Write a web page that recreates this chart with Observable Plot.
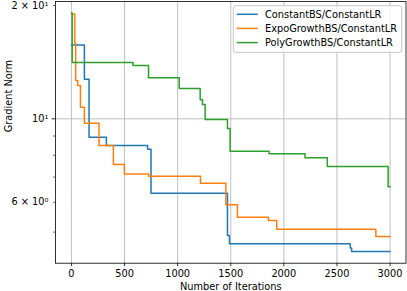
<!DOCTYPE html>
<html><head><meta charset="utf-8">
<script src="https://cdn.jsdelivr.net/npm/d3@7"></script>
<script src="https://cdn.jsdelivr.net/npm/@observablehq/plot@0.6"></script>
<style>
html,body{margin:0;padding:0;background:#fff;}
#chart{position:relative;width:407px;height:291px;}
</style></head><body><div id="chart"></div>
<script>
const seriesNames = ["ConstantBS/ConstantLR", "ExpoGrowthBS/ConstantLR", "PolyGrowthBS/ConstantLR"];
const seriesColors = ["#1f77b4", "#ff7f0e", "#2ca02c"];

const constantIter = [0, 122, 166, 329, 717, 749, 1469, 1488, 2625, 2638, 3000];
const constantNorm = [15.7, 12.74, 8.93, 8.49, 8.30, 6.34, 4.9, 4.66, 4.54, 4.44, 4.44];

const expoIter = [0, 31, 40, 59, 85, 122, 260, 395, 498, 727, 1215, 1454, 1563, 1855, 1933, 2866, 3000];
const expoNorm = [19.0, 15.9, 12.64, 12.26, 10.73, 9.73, 8.49, 7.56, 7.14, 7.04, 6.74, 5.91, 5.48, 5.37, 5.09, 4.87, 4.87];

const polyIter = [0, 7, 580, 726, 1015, 1212, 1234, 1259, 1469, 1494, 1861, 2199, 2409, 2982, 3000];
const polyNorm = [19.1, 14.11, 13.86, 12.85, 12.04, 11.23, 10.91, 9.96, 9.42, 8.20, 8.07, 7.88, 7.47, 6.60, 6.60];

const xTicks = [0, 500, 1000, 1500, 2000, 2500, 3000];
const yMajorTicks = [10];
const yLabeledMinorTicks = [6, 20];
const yMinorTicks = [5, 7, 8, 9];
const yTickLabels = new Map([[6, "6 × 10⁰"], [10, "10¹"], [20, "2 × 10¹"]]);
const xLabel = "Number of Iterations";
const yLabel = "Gradient Norm";

const iters = [constantIter, expoIter, polyIter];
const norms = [constantNorm, expoNorm, polyNorm];
const rows = [];
seriesNames.forEach((name, i) => {
  iters[i].forEach((it, j) => rows.push({series: name, iter: it, norm: norms[i][j]}));
});

const W = 407, H = 291;
const mL = 55, mT = 1, mR = 1.5, mB = 28.3;
const FS = 9.8;

const chart = Plot.plot({
  width: W, height: H,
  marginLeft: mL, marginTop: mT, marginRight: mR, marginBottom: mB,
  style: {fontFamily: "DejaVu Sans", fontSize: FS + "px", color: "#000", background: "#fff"},
  x: {domain: [-150, 3150]},
  y: {type: "log", domain: [4.134, 20.5]},
  color: {domain: seriesNames, range: seriesColors},
  marks: [
    Plot.gridX(xTicks, {stroke: "#b0b0b0", strokeOpacity: 1, strokeWidth: 0.8}),
    Plot.gridY(yMajorTicks, {stroke: "#b0b0b0", strokeOpacity: 1, strokeWidth: 0.8}),
    Plot.line(rows, {x: "iter", y: "norm", z: "series", stroke: "series", curve: "step-after", strokeWidth: 1.5}),
    Plot.frame({stroke: "#000", strokeWidth: 0.8}),
    Plot.axisX(xTicks, {tickSize: 3.5, tickPadding: 3.5, strokeWidth: 0.8, label: null, tickFormat: d => String(d)}),
    Plot.axisY(yMajorTicks, {tickSize: 3.5, tickPadding: 3.5, strokeWidth: 0.8, label: null, tickFormat: d => yTickLabels.get(d)}),
    Plot.axisY(yLabeledMinorTicks, {tickSize: 2, tickPadding: 5, strokeWidth: 0.6, label: null, tickFormat: d => yTickLabels.get(d)}),
    Plot.axisY(yMinorTicks, {tickSize: 2, strokeWidth: 0.6, label: null, tickFormat: () => ""}),
    Plot.text([xLabel], {frameAnchor: "bottom", lineAnchor: "middle", dy: 23.5, text: d => d, fontSize: FS}),
    Plot.text([yLabel], {frameAnchor: "left", lineAnchor: "middle", dx: -47, rotate: -90, text: d => d, fontSize: FS})
  ]
});

// Legend (matplotlib-style, upper right)
const svg = d3.select(chart);
const lg = svg.append("g").attr("text-anchor", "start");
const boxX = 233.3, boxY = 5.7, boxW = 168.4, boxH = 46.6;
lg.append("rect").attr("x", boxX).attr("y", boxY).attr("width", boxW).attr("height", boxH)
  .attr("rx", 2.5).attr("fill", "#fff").attr("fill-opacity", 0.8).attr("stroke", "#c8c8c8").attr("stroke-width", 1);
const rowYs = [14.3, 28.4, 42.6];
seriesNames.forEach((name, i) => {
  lg.append("line").attr("x1", 236.7).attr("x2", 257.7).attr("y1", rowYs[i]).attr("y2", rowYs[i])
    .attr("stroke", seriesColors[i]).attr("stroke-width", 1.5);
  lg.append("text").attr("x", 265).attr("y", rowYs[i]).attr("dy", "0.35em").attr("text-anchor", "start")
    .attr("font-family", "DejaVu Sans").attr("font-size", FS).attr("fill", "#000").text(name);
});

document.getElementById("chart").appendChild(chart);
</script></body></html>
